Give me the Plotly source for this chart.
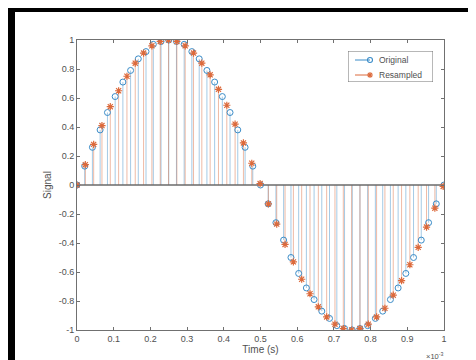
import plotly.graph_objects as go

# Original signal (48 kHz samples), time in ms (axis shows x10^-3 s)
orig_t = [0, 0.021, 0.042, 0.063, 0.083, 0.104, 0.125, 0.146, 0.167, 0.188, 0.208, 0.229,
          0.25, 0.271, 0.292, 0.313, 0.333, 0.354, 0.375, 0.396, 0.417, 0.438, 0.458, 0.479,
          0.5, 0.521, 0.542, 0.563, 0.583, 0.604, 0.625, 0.646, 0.667, 0.688, 0.708, 0.729,
          0.75, 0.771, 0.792, 0.813, 0.833, 0.854, 0.875, 0.896, 0.917, 0.938, 0.958, 0.979, 1.0]
orig_v = [0, 0.13, 0.26, 0.38, 0.5, 0.61, 0.71, 0.79, 0.87, 0.92, 0.97, 0.99,
          1, 0.99, 0.97, 0.92, 0.87, 0.79, 0.71, 0.61, 0.5, 0.38, 0.26, 0.13,
          0, -0.13, -0.26, -0.38, -0.5, -0.61, -0.71, -0.79, -0.87, -0.92, -0.97, -0.99,
          -1, -0.99, -0.97, -0.92, -0.87, -0.79, -0.71, -0.61, -0.5, -0.38, -0.26, -0.13, 0]

# Resampled signal (44.1 kHz samples)
res_t = [0, 0.0227, 0.0454, 0.068, 0.0907, 0.1134, 0.1361, 0.1587, 0.1814, 0.2041, 0.2268,
         0.2494, 0.2721, 0.2948, 0.3175, 0.3401, 0.3628, 0.3855, 0.4082, 0.4308, 0.4535,
         0.4762, 0.4989, 0.5215, 0.5442, 0.5669, 0.5896, 0.6122, 0.6349, 0.6576, 0.6803,
         0.7029, 0.7256, 0.7483, 0.771, 0.7937, 0.8163, 0.839, 0.8617, 0.8844, 0.907,
         0.9297, 0.9524, 0.9751, 0.9977]
res_v = [0, 0.14, 0.28, 0.41, 0.54, 0.65, 0.75, 0.84, 0.91, 0.96, 0.99,
         1.0, 0.99, 0.96, 0.91, 0.84, 0.76, 0.66, 0.55, 0.42, 0.29,
         0.15, 0.01, -0.13, -0.27, -0.41, -0.53, -0.65, -0.75, -0.84, -0.91,
         -0.96, -0.99, -1.0, -0.99, -0.96, -0.91, -0.85, -0.76, -0.66, -0.55,
         -0.43, -0.29, -0.16, -0.01]

series_names = ["Original", "Resampled"]

x_ticks = [0, 0.1, 0.2, 0.3, 0.4, 0.5, 0.6, 0.7, 0.8, 0.9, 1]
x_tick_labels = ["0", "0.1", "0.2", "0.3", "0.4", "0.5", "0.6", "0.7", "0.8", "0.9", "1"]
y_ticks = [-1, -0.8, -0.6, -0.4, -0.2, 0, 0.2, 0.4, 0.6, 0.8, 1]
y_tick_labels = ["-1", "-0.8", "-0.6", "-0.4", "-0.2", "0", "0.2", "0.4", "0.6", "0.8", "1"]

BLUE = "#3a8cc8"
ORANGE = "#dc6a3c"
AX = "#707070"
TXT = "#505050"
FONT = "Liberation Sans, Arial, sans-serif"


def stems(ts, vs):
    xs, ys = [], []
    for t, v in zip(ts, vs):
        xs += [t, t, None]
        ys += [0, v, None]
    return xs, ys


fig = go.Figure()

ox, oy = stems(orig_t, orig_v)
rx, ry = stems(res_t, res_v)

fig.add_trace(go.Scatter(x=ox, y=oy, mode="lines", line=dict(color=BLUE, width=1),
                         opacity=0.45, showlegend=False, hoverinfo="skip"))
fig.add_trace(go.Scatter(x=rx, y=ry, mode="lines", line=dict(color=ORANGE, width=1),
                         opacity=0.45, showlegend=False, hoverinfo="skip"))

# baseline
fig.add_trace(go.Scatter(x=[0, 1], y=[0, 0], mode="lines", line=dict(color="#6a6a6a", width=1.3),
                         showlegend=False, hoverinfo="skip"))

fig.add_trace(go.Scatter(x=orig_t, y=orig_v, mode="markers", name=series_names[0], showlegend=False,
                         marker=dict(symbol="circle-open", size=6, color=BLUE,
                                     line=dict(width=1, color=BLUE))))
fig.add_trace(go.Scatter(x=res_t, y=res_v, mode="markers", name=series_names[1], showlegend=False,
                         marker=dict(symbol="asterisk-open", size=6, color=ORANGE,
                                     line=dict(width=1.2, color=ORANGE))))

L, R, T, B = 69, 40, 32, 38
W, H = 476, 360
pw, ph = W - L - R, H - T - B


def px(xp):
    return (xp - L) / pw


def py(yp):
    return (H - B - yp) / ph


# ---- compact MATLAB-style legend drawn in a small overlay axis (box 340..425 x 43..74 px)
LG_X0, LG_X1, LG_Y0, LG_Y1 = 340, 425, 43, 74
lw, lh = LG_X1 - LG_X0, LG_Y1 - LG_Y0
rows = [9, 24]
fig.add_shape(type="rect", xref="x2", yref="y2", x0=0, x1=lw, y0=0, y1=lh,
              fillcolor="white", line=dict(color=AX, width=1), layer="below")
for name, row, col, sym in [(series_names[0], rows[0], BLUE, "circle-open"),
                            (series_names[1], rows[1], ORANGE, "asterisk-open")]:
    fig.add_trace(go.Scatter(x=[7, 22], y=[row, row], xaxis="x2", yaxis="y2", mode="lines",
                             line=dict(color=col, width=1), showlegend=False, hoverinfo="skip"))
    fig.add_trace(go.Scatter(x=[22], y=[row], xaxis="x2", yaxis="y2", mode="markers",
                             marker=dict(symbol=sym, size=5, color=col, line=dict(width=1.1, color=col)),
                             showlegend=False, hoverinfo="skip"))
    fig.add_annotation(text=name, xref="x2", yref="y2", x=29, y=row, xanchor="left",
                       yanchor="middle", showarrow=False,
                       font=dict(size=8.5, color=TXT, family=FONT))

# black frame strips of the screenshot (top and left)
fig.add_shape(type="rect", xref="paper", yref="paper", x0=px(0), x1=px(W), y0=py(4), y1=py(0),
              fillcolor="black", line=dict(width=0), layer="above")
fig.add_shape(type="rect", xref="paper", yref="paper", x0=px(0), x1=px(7), y0=py(H), y1=py(0),
              fillcolor="black", line=dict(width=0), layer="above")

fig.add_annotation(text="\u00d710<sup>-3</sup>", xref="paper", yref="paper",
                   x=1.0, y=py(348), xanchor="right", yanchor="middle", showarrow=False,
                   borderpad=0, font=dict(size=7.5, color=TXT, family=FONT))

axis_common = dict(showgrid=False, zeroline=False, showline=True, linecolor=AX, linewidth=1,
                   mirror="ticks", ticks="inside", ticklen=3, tickcolor=AX,
                   tickfont=dict(size=9, color=TXT, family=FONT))

fig.update_layout(
    width=W, height=H,
    margin=dict(l=L, r=R, t=T, b=B),
    paper_bgcolor="white", plot_bgcolor="white",
    font=dict(family=FONT, color=TXT),
    xaxis=dict(range=[0, 1], tickvals=x_ticks, ticktext=x_tick_labels,
               title=dict(text="Time (s)", font=dict(size=10, color=TXT), standoff=3),
               **axis_common),
    yaxis=dict(range=[-1, 1], tickvals=y_ticks, ticktext=y_tick_labels,
               title=dict(text="Signal", font=dict(size=10, color=TXT), standoff=5),
               **axis_common),
    xaxis2=dict(domain=[px(LG_X0), px(LG_X1)], range=[0, lw], visible=False, anchor="y2",
                fixedrange=True),
    yaxis2=dict(domain=[py(LG_Y1), py(LG_Y0)], range=[lh, 0], visible=False, anchor="x2",
                fixedrange=True),
    showlegend=False,
)

fig.write_html("out.html")
